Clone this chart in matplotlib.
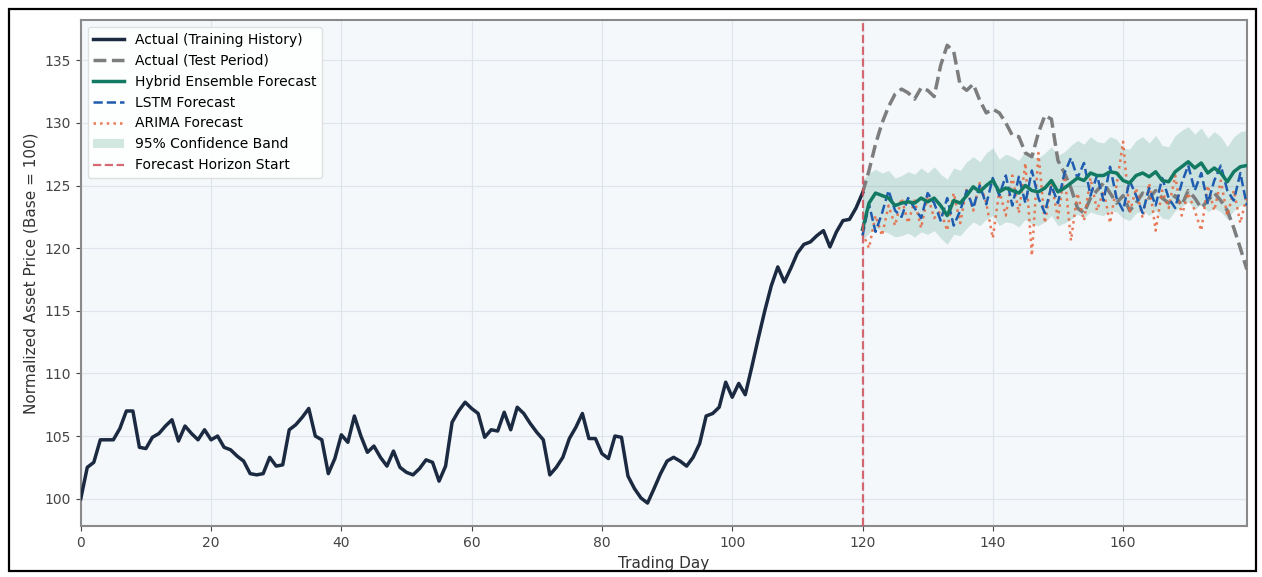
import matplotlib
matplotlib.use('Agg')
import matplotlib.pyplot as plt
from matplotlib.patches import Rectangle
import numpy as np

# training history, days 0..120
train_prices = [
    100.0, 102.5, 102.9, 104.7, 104.7, 104.7, 105.6, 107.0, 107.0, 104.1,
    104.0, 104.9, 105.2, 105.8, 106.3, 104.6, 105.8, 105.2, 104.7, 105.5,
    104.7, 105.0, 104.1, 103.9, 103.4, 103.0, 102.0, 101.9, 102.0, 103.3,
    102.6, 102.7, 105.5, 105.9, 106.5, 107.2, 105.0, 104.7, 102.0, 103.2,
    105.1, 104.5, 106.6, 105.0, 103.7, 104.2, 103.3, 102.6, 103.8, 102.5,
    102.1, 101.9, 102.4, 103.1, 102.9, 101.4, 102.6, 106.1, 107.0, 107.7,
    107.2, 106.8, 104.9, 105.5, 105.4, 106.9, 105.5, 107.3, 106.8, 106.0,
    105.3, 104.7, 101.9, 102.5, 103.3, 104.8, 105.7, 106.8, 104.8, 104.8,
    103.6, 103.2, 105.0, 104.9, 101.8, 100.8, 100.05, 99.65, 100.8, 102.0,
    103.0, 103.3, 103.0, 102.6, 103.3, 104.4, 106.6, 106.8, 107.3, 109.3,
    108.1, 109.2, 108.3, 110.5, 112.8, 115.0, 117.0, 118.5, 117.3, 118.4,
    119.6, 120.3, 120.5, 121.0, 121.4, 120.1, 121.3, 122.2, 122.3, 123.2,
    124.4,
]

# test period actuals, days 120..179
test_prices = [
    124.4, 126.2, 128.3, 130.0, 131.3, 132.3, 132.7, 132.4, 131.9, 132.8,
    132.6, 132.1, 134.6, 136.2, 135.7, 133.0, 132.6, 133.1, 131.8, 130.8,
    131.1, 130.8, 130.0, 129.0, 128.9, 127.6, 127.3, 129.2, 130.6, 130.3,
    127.0, 126.0, 124.8, 123.2, 122.8, 124.0, 124.6, 125.2, 124.4, 123.6,
    124.2, 123.0, 123.6, 124.4, 124.0, 124.6, 124.0, 123.6, 124.2, 123.4,
    124.6, 124.0, 123.2, 123.8, 124.4, 123.8, 123.0, 121.6, 120.0, 118.3,
]

hybrid_fc = [
    121.5, 123.6, 124.4, 124.2, 124.0, 123.4, 123.6, 123.7, 123.6, 124.0,
    123.7, 124.0, 123.4, 122.6, 123.8, 123.6, 124.2, 124.9, 124.5, 125.0,
    125.4, 124.5, 124.8, 124.6, 124.4, 125.0, 124.6, 124.5, 124.8, 125.4,
    124.5, 124.8, 125.2, 125.6, 125.4, 126.0, 125.8, 125.8, 126.1, 126.0,
    125.4, 125.2, 125.8, 126.0, 125.7, 126.1, 125.4, 125.3, 126.1, 126.5,
    126.9, 126.4, 126.8, 126.0, 126.4, 126.0, 125.3, 126.1, 126.5, 126.6,
]

lstm_fc = [
    121.0, 123.5, 121.3, 122.8, 124.6, 123.0, 122.5, 124.0, 123.2, 122.4,
    124.4, 123.6, 122.2, 124.0, 121.8, 123.0, 124.6, 123.2, 125.0, 123.5,
    125.6, 124.2, 125.8, 123.4, 125.7, 123.6, 126.2, 124.0, 122.8, 125.0,
    123.6, 126.0, 127.2, 125.6, 126.8, 124.2, 125.8, 123.8, 126.5, 124.0,
    123.0, 125.4, 124.2, 122.8, 124.8, 123.4, 125.6, 124.0, 123.2, 125.2,
    126.6, 124.6, 126.0, 123.6, 125.4, 126.6, 124.6, 123.8, 126.0, 123.4,
]

arima_fc = [
    121.2, 120.0, 122.6, 121.0, 123.4, 121.8, 124.0, 122.0, 123.8, 121.6,
    124.2, 122.4, 123.0, 121.4, 124.4, 122.0, 124.8, 123.0, 125.2, 123.6,
    120.8, 124.6, 122.6, 125.8, 122.8, 126.8, 119.4, 127.6, 122.0, 125.2,
    122.4, 126.0, 120.6, 124.4, 122.2, 125.6, 123.0, 124.6, 122.0, 125.0,
    128.5, 122.8, 124.8, 122.4, 125.2, 121.4, 124.6, 123.2, 125.8, 122.6,
    124.4, 123.0, 121.4, 125.0, 123.0, 125.4, 122.6, 124.6, 122.0, 124.2,
]

band_upper = [
    125.4, 126.0, 126.3, 126.0, 126.2, 125.6, 125.8, 126.1, 125.9, 126.4,
    126.0, 126.5, 125.9, 125.5, 126.4, 126.2, 126.9, 127.3, 126.9, 127.6,
    128.0, 127.1, 127.5, 127.3, 127.0, 127.8, 127.3, 127.2, 127.6, 128.1,
    127.4, 127.7, 128.2, 128.6, 128.3, 128.9, 128.5, 128.4, 128.9, 128.7,
    128.0, 127.9, 128.6, 128.9, 128.4, 129.0, 128.2, 128.1, 129.0, 129.4,
    129.7, 129.1, 129.6, 128.8, 129.3, 128.9, 128.1, 128.9, 129.3, 129.4,
]

band_lower = [
    120.6, 121.2, 121.6, 121.4, 121.2, 120.9, 121.0, 121.2, 120.9, 121.3,
    121.1, 121.4, 120.8, 120.3, 121.1, 121.0, 121.6, 122.1, 121.8, 122.3,
    122.6, 121.8, 122.1, 122.0, 121.7, 122.3, 121.9, 121.8, 122.1, 122.6,
    121.8, 122.0, 122.3, 122.7, 122.4, 122.9, 122.7, 122.6, 123.0, 122.9,
    122.4, 122.2, 122.8, 123.0, 122.6, 123.0, 122.4, 122.3, 123.0, 123.3,
    123.7, 123.1, 123.5, 122.9, 123.2, 122.9, 122.3, 123.0, 123.4, 123.5,
]

horizon_start = 120


def main():
    train_days = np.arange(len(train_prices))
    test_days = np.arange(horizon_start, horizon_start + len(test_prices))

    fig = plt.figure(figsize=(12.62, 5.77), dpi=100)
    ax = fig.add_axes([0.064, 0.088, 0.924, 0.877])
    ax.set_facecolor('#f4f8fb')

    # history and realised test values
    ax.plot(train_days, train_prices, color='#1b2a41', lw=2.5,
            label='Actual (Training History)', zorder=4)
    ax.plot(test_days, test_prices, color='#7d7d7d', lw=2.5, ls='--',
            label='Actual (Test Period)', zorder=3)

    # forecasts
    ax.plot(test_days, hybrid_fc, color='#127a63', lw=2.5,
            label='Hybrid Ensemble Forecast', zorder=5)
    ax.plot(test_days, lstm_fc, color='#1f5cb0', lw=1.8, ls='--',
            label='LSTM Forecast', zorder=4)
    ax.plot(test_days, arima_fc, color='#e8643c', lw=1.8, ls=':',
            alpha=0.85, label='ARIMA Forecast', zorder=3)
    ax.fill_between(test_days, band_lower, band_upper, color='#2e8b6f',
                    alpha=0.2, lw=0, label='95% Confidence Band', zorder=2)

    ax.axvline(horizon_start, color='#d0505a', ls='--', lw=1.6, alpha=0.85,
               label='Forecast Horizon Start', zorder=6)

    ax.set_xlim(0, test_days[-1])
    ax.set_ylim(97.8, 138.2)
    ax.set_xticks(np.arange(0, 180, 20))
    ax.set_yticks(np.arange(100, 140, 5))

    ax.set_xlabel('Trading Day', fontsize=11, color='#333333')
    ax.set_ylabel('Normalized Asset Price (Base = 100)', fontsize=11,
                  color='#333333')
    ax.tick_params(axis='both', labelsize=10, colors='#444444')
    ax.grid(True, color='#dde3ea', lw=0.8, alpha=0.9)
    ax.set_axisbelow(True)
    for spine in ax.spines.values():
        spine.set_color('#8a8a8a')
        spine.set_linewidth(1.5)

    ax.legend(loc='upper left', fontsize=10, frameon=True, framealpha=0.9,
              edgecolor='#dddddd', handlelength=2.2)

    # thin frame round the whole figure
    fig.add_artist(Rectangle((0.007, 0.01), 0.988, 0.975,
                             transform=fig.transFigure, fill=False,
                             edgecolor='black', lw=1.6))

    fig.savefig('out.png', dpi=100)


if __name__ == '__main__':
    main()
